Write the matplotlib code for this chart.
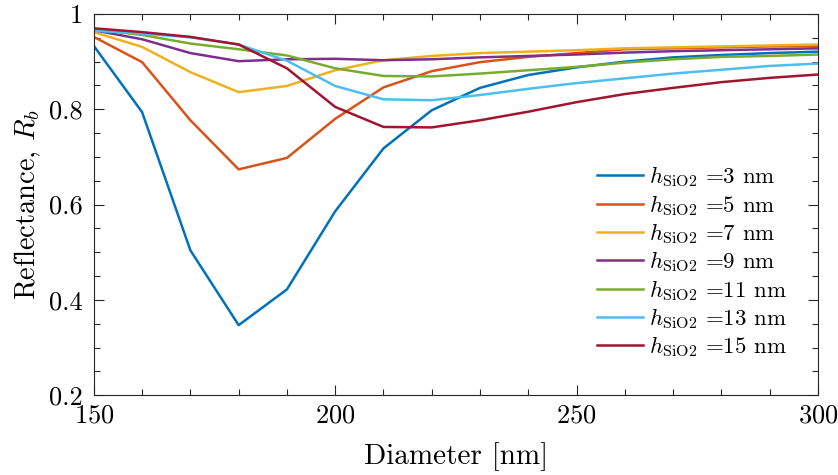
import numpy as np
import matplotlib
matplotlib.use("Agg")
import matplotlib.pyplot as plt
from matplotlib.ticker import MultipleLocator

## DATA
diameter = np.arange(150, 301, 10)  # nm

R_3nm = [0.933, 0.794, 0.504, 0.347, 0.422, 0.586, 0.718, 0.798, 0.845, 0.872,
         0.888, 0.900, 0.909, 0.914, 0.918, 0.921]
R_5nm = [0.952, 0.899, 0.777, 0.674, 0.698, 0.780, 0.846, 0.880, 0.899, 0.910,
         0.918, 0.926, 0.928, 0.930, 0.932, 0.933]
R_7nm = [0.962, 0.931, 0.878, 0.836, 0.849, 0.882, 0.903, 0.912, 0.918, 0.921,
         0.924, 0.928, 0.930, 0.932, 0.934, 0.936]
R_9nm = [0.966, 0.947, 0.918, 0.901, 0.905, 0.906, 0.903, 0.905, 0.909, 0.912,
         0.915, 0.919, 0.922, 0.924, 0.926, 0.928]
R_11nm = [0.968, 0.956, 0.938, 0.926, 0.913, 0.886, 0.870, 0.869, 0.875, 0.882,
          0.889, 0.898, 0.905, 0.910, 0.912, 0.915]
R_13nm = [0.965, 0.959, 0.951, 0.936, 0.902, 0.849, 0.821, 0.819, 0.830, 0.843,
          0.855, 0.865, 0.875, 0.883, 0.891, 0.896]
R_15nm = [0.970, 0.962, 0.952, 0.936, 0.886, 0.805, 0.763, 0.762, 0.777, 0.795,
          0.815, 0.832, 0.845, 0.857, 0.866, 0.873]

thickness = [3, 5, 7, 9, 11, 13, 15]
series = [R_3nm, R_5nm, R_7nm, R_9nm, R_11nm, R_13nm, R_15nm]
colors = ["#0072BD", "#D95319", "#EDB120", "#7E2F8E", "#77AC30", "#4DBEEE", "#A2142F"]

## STYLE (LaTeX-like look)
plt.rcParams["font.family"] = "serif"
plt.rcParams["font.serif"] = ["cmr10"]
plt.rcParams["mathtext.fontset"] = "cm"
plt.rcParams["axes.formatter.use_mathtext"] = True

fig = plt.figure(figsize=(8.38, 4.75), dpi=100)
ax = fig.add_axes([0.112, 0.168, 0.864, 0.8025])

for t, r, c in zip(thickness, series, colors):
    ax.plot(diameter, r, color=c, lw=1.8, label=r"$h_{\mathrm{SiO2}}$ =%d nm" % t)

ax.set_xlim(150, 300)
ax.set_ylim(0.2, 1.0)
ax.xaxis.set_major_locator(MultipleLocator(50))
ax.xaxis.set_minor_locator(MultipleLocator(10))
ax.yaxis.set_major_locator(MultipleLocator(0.2))
ax.yaxis.set_minor_locator(MultipleLocator(0.05))
ax.yaxis.set_major_formatter(plt.FuncFormatter(lambda v, p: "%g" % round(v, 2)))

ax.tick_params(which="both", direction="in", top=True, right=True, colors="#262626",
               labelcolor="black", labelsize=19, width=0.8)
ax.tick_params(which="major", length=7)
ax.tick_params(which="minor", length=4)
ax.tick_params(axis="x", which="major", pad=6)
ax.tick_params(axis="y", which="major", pad=8)
for s in ax.spines.values():
    s.set_color("#262626")
    s.set_linewidth(0.8)

ax.set_xlabel("Diameter [nm]", fontsize=21, labelpad=11)
ax.set_ylabel(r"Reflectance, $R_b$", fontsize=20.5, labelpad=4)

ax.legend(loc="lower right", frameon=False, fontsize=16.5, handlelength=2.0,
          handletextpad=0.25, labelspacing=0.15, bbox_to_anchor=(0.985, 0.04))

fig.savefig("out.png", dpi=100)
